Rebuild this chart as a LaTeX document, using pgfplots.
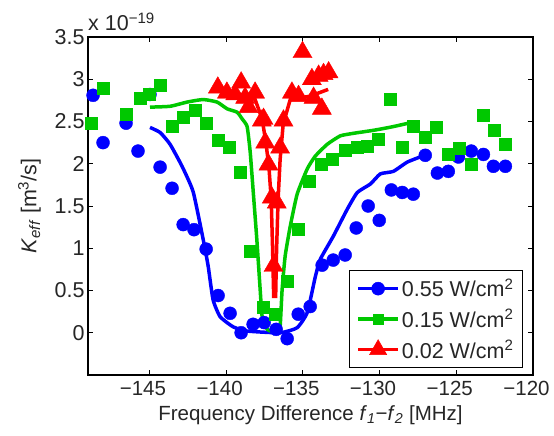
\documentclass[border=0pt]{standalone}
\usepackage{fontspec}
\setmainfont{Liberation Sans}
\usepackage{pgfplots}
\pgfplotsset{compat=1.18}
\definecolor{mblue}{RGB}{0,0,255}
\definecolor{mgreen}{RGB}{0,200,0}
\definecolor{mred}{RGB}{255,0,0}
\definecolor{mtext}{RGB}{38,38,38}
\newcommand{\tickf}{\fontsize{20.5}{24}\selectfont}
\newcommand{\legf}{\fontsize{21.5}{25}\selectfont}
\begin{document}
\begin{tikzpicture}
\path[use as bounding box] (-88pt,-61pt) rectangle (466pt,375pt);
\begin{axis}[
 name=ax,
 at={(0pt,0pt)}, anchor=south west, scale only axis, width=445pt, height=338pt,
 xmin=-149, xmax=-120, ymin=-0.5, ymax=3.5,
 xtick={-145,-140,...,-120}, xticklabels={−145,−140,−135,−130,−125,−120},
 ytick={0,0.5,1,1.5,2,2.5,3,3.5}, yticklabels={0,0.5,1,1.5,2,2.5,3,3.5},
 tick align=inside, major tick length=5pt, tick style={black, line width=0.8pt},
 axis line style={line width=1.2pt},
 ticklabel style={font=\tickf, text=mtext},
 yticklabel style={font=\legf},
 xticklabel style={xshift=-6.5pt, yshift=-3pt},
 xlabel={Frequency Difference \textit{f}\textsubscript{\textit{1}}−\textit{f}\textsubscript{\textit{2}} [MHz]},
 ylabel={\textit{K}\textsubscript{\textit{eff}} [m\textsuperscript{3}/s]},
 label style={font=\tickf, text=mtext},
 xlabel style={yshift=-3pt},
 ylabel style={font=\legf, yshift=7pt},
 clip=false,
 legend style={at={(1,0)}, anchor=south east, xshift=-10pt, yshift=7pt, draw=black, line width=1pt,
   font=\legf, text=mtext, inner xsep=7pt, inner ysep=6pt, row sep=7pt, cells={anchor=west}},
 legend image code/.code={\draw[#1, line width=3.5pt] (0pt,0pt) -- (40pt,0pt);
   \draw[#1, line width=0.5pt] plot coordinates {(20pt,0pt)};},
]
% blue data
\addplot[only marks, mark=*, mark size=6.5pt, mblue, forget plot] coordinates {
(-148.67,2.81) (-148.02,2.25) (-146.52,2.48) (-145.74,2.15) (-144.96,2.82)
(-144.30,1.96) (-143.52,1.71) (-142.80,1.28) (-142.09,1.22) (-141.30,0.99)
(-140.52,0.44) (-139.74,0.23) (-139.02,0.00) (-138.24,0.10) (-137.52,0.12)
(-136.74,0.04) (-136.02,-0.07) (-135.30,0.22) (-134.52,0.31) (-133.74,0.80)
(-133.02,0.86) (-132.24,0.92) (-131.52,1.24) (-130.74,1.50) (-130.02,1.33)
(-129.23,1.69) (-128.52,1.66) (-127.80,1.64) (-127.02,2.10) (-126.23,1.89)
(-125.52,1.91) (-124.86,2.08) (-124.02,2.15) (-123.23,2.11) (-122.58,1.97)
(-121.80,1.97)};
% blue curve
\addplot[mblue, line width=3.5pt, smooth, tension=0.3, forget plot] coordinates {
(-144.96,2.43) (-144.30,2.37) (-143.65,2.23) (-142.87,1.97) (-142.15,1.67)
(-141.50,1.11) (-141.17,0.79) (-140.85,0.39) (-140.39,0.19) (-139.54,0.07)
(-138.63,0.02) (-136.48,0.00) (-135.37,0.06) (-134.71,0.24) (-134.19,0.66)
(-133.86,0.87) (-133.02,1.14) (-132.11,1.46) (-131.45,1.66) (-130.60,1.76)
(-129.95,1.88) (-129.10,1.91) (-128.19,2.02) (-127.21,2.09)};
% red data
\addplot[only marks, mark=triangle*, mark size=11pt, mred, forget plot] coordinates {
(-140.54,2.90) (-139.95,2.84) (-139.41,2.82) (-139.02,2.96) (-138.76,2.78)
(-138.54,2.67) (-138.11,2.84) (-137.67,2.51) (-137.56,2.53) (-137.45,2.25)
(-137.24,1.99) (-137.02,1.60) (-136.91,0.79) (-136.70,1.54) (-136.48,2.19)
(-136.26,2.51) (-135.71,2.84) (-135.28,2.80) (-135.02,3.32) (-134.41,3.00)
(-134.30,2.78) (-133.97,3.04) (-133.76,2.65) (-133.65,3.06) (-133.32,3.08)};
% red curve
\addplot[mred, line width=3.5pt, forget plot] coordinates {
(-140.52,2.86) (-139.08,2.82) (-138.11,2.76) (-137.65,2.53) (-137.39,2.23)
(-137.20,1.94) (-137.06,1.58) (-136.97,0.99) (-136.90,0.43) (-136.77,0.43)
(-136.71,0.99) (-136.61,1.58) (-136.48,2.05) (-136.28,2.47) (-135.82,2.76)
(-134.52,2.80) (-133.35,2.88)};
% green data
\addplot[only marks, mark=square*, mark size=6pt, mgreen, forget plot] coordinates {
(-148.76,2.48) (-148.04,2.89) (-146.52,2.59) (-145.61,2.78) (-145.00,2.82)
(-144.30,2.93) (-143.54,2.45) (-142.78,2.55) (-142.02,2.63) (-141.30,2.48)
(-140.50,2.28) (-139.78,2.20) (-139.08,1.90) (-138.43,0.97) (-137.56,0.30)
(-136.80,0.22) (-136.04,0.61) (-135.28,1.22) (-134.58,1.79) (-133.82,1.99)
(-133.10,2.05) (-132.24,2.16) (-131.47,2.20) (-130.82,2.21) (-130.06,2.29)
(-129.30,2.76) (-128.54,2.19) (-127.78,2.45) (-127.02,2.32) (-126.30,2.43)
(-125.54,2.11) (-124.78,2.18) (-124.02,1.99) (-123.25,2.57) (-122.56,2.40)
(-121.80,2.23)};
% green curve
\addplot[mgreen, line width=3.5pt, smooth, tension=0.3, forget plot] coordinates {
(-144.96,2.67) (-143.65,2.68) (-142.54,2.73) (-141.50,2.76) (-140.59,2.73)
(-139.93,2.65) (-139.28,2.61) (-138.95,2.53) (-138.63,2.44) (-138.43,2.14)
(-138.22,1.64) (-138.00,1.11) (-137.78,0.51) (-137.65,0.19) (-137.32,0.04)
(-136.67,0.00) (-136.48,0.07) (-136.35,0.51) (-136.15,0.91) (-135.82,1.26)
(-135.37,1.64) (-134.71,1.94) (-134.19,2.09) (-133.41,2.23) (-132.56,2.33)
(-131.71,2.36) (-130.60,2.39) (-129.95,2.41) (-129.10,2.44) (-127.87,2.49)};
\addlegendimage{mblue, mark=*, mark size=6.5pt}
\addlegendentry{0.55 W/cm\textsuperscript{2}}
\addlegendimage{mgreen, mark=square*, mark size=5pt}
\addlegendentry{0.15 W/cm\textsuperscript{2}}
\addlegendimage{mred, mark=triangle*, mark size=10pt}
\addlegendentry{0.02 W/cm\textsuperscript{2}}
\end{axis}
\node[anchor=base west, font=\legf, text=mtext, inner sep=0pt] at ([yshift=6pt]ax.north west) {x 10\textsuperscript{−19}};
\end{tikzpicture}
\end{document}
